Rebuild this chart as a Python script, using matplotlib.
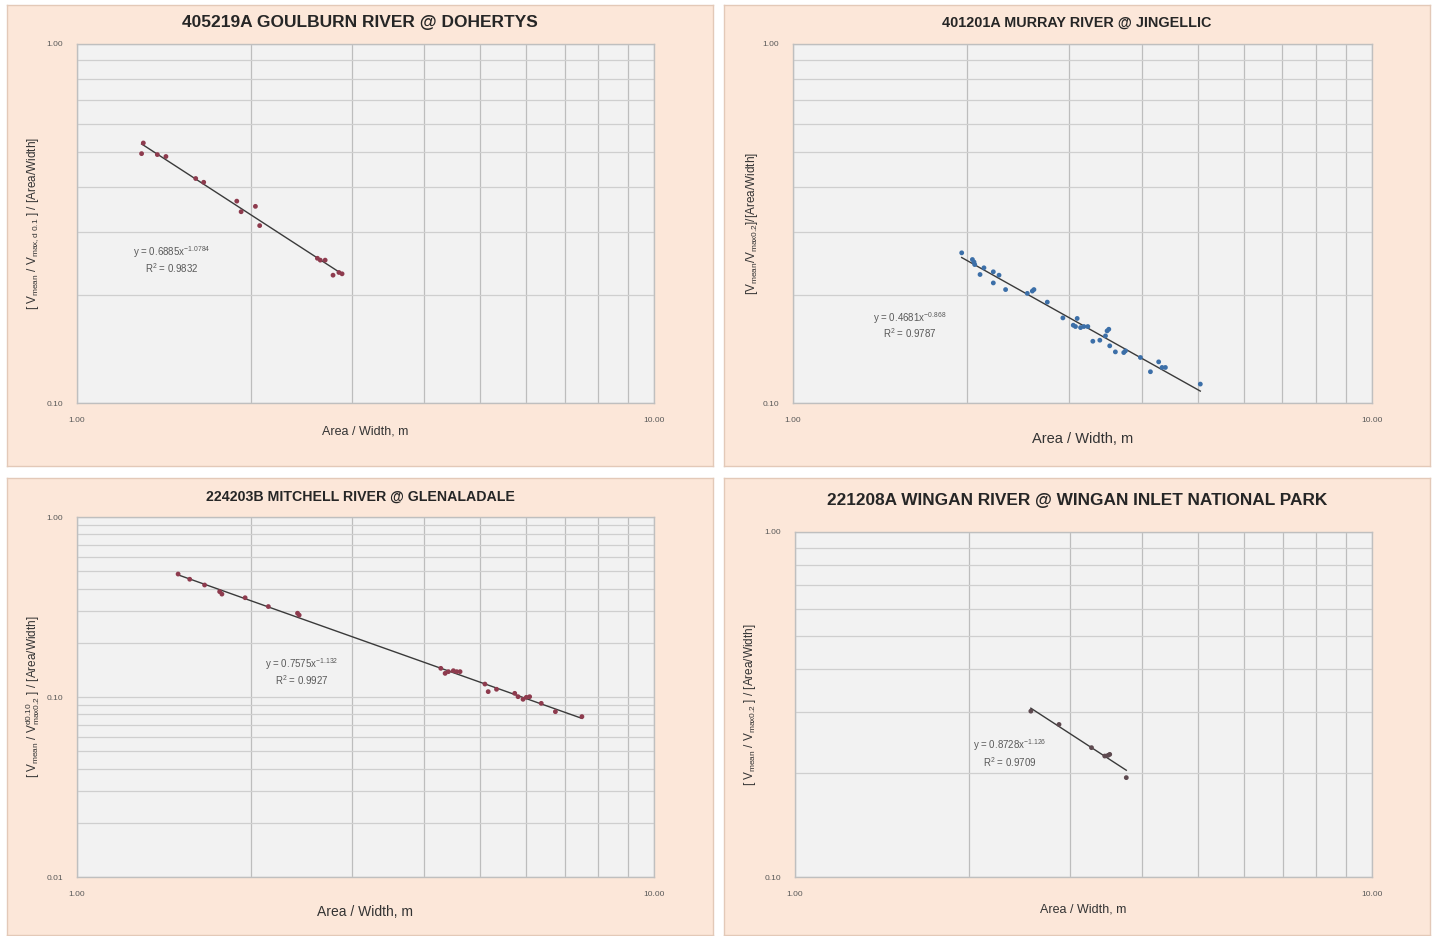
import numpy as np
import matplotlib
matplotlib.use("Agg")
import matplotlib.pyplot as plt
from matplotlib.ticker import FixedLocator, NullFormatter, FixedFormatter

plt.rcParams['font.family'] = ['Liberation Sans', 'DejaVu Sans']
plt.rcParams['mathtext.fontset'] = 'custom'
plt.rcParams['mathtext.rm'] = 'Liberation Sans'
plt.rcParams['mathtext.it'] = 'Liberation Sans'

# ---------------- data ----------------
titles = ["405219A GOULBURN RIVER @ DOHERTYS",
          "401201A MURRAY RIVER @ JINGELLIC",
          "224203B MITCHELL RIVER @ GLENALADALE",
          "221208A WINGAN RIVER @ WINGAN INLET NATIONAL PARK"]

x_label = "Area / Width, m"
y_labels = [r"[ V$_{mean}$ / V$_{max,d\ 0.1}$ ] / [Area/Width]",
            r"[V$_{mean}$/V$_{max0.2}$]/[Area/Width]",
            r"[ V$_{mean}$ / V$_{max0.2}^{d0.10}$ ] / [Area/Width]",
            r"[ V$_{mean}$ / V$_{max0.2}$ ] / [Area/Width]"]

eq_texts = [("y = 0.6885x$^{-1.0784}$", "R$^2$ = 0.9832"),
            ("y = 0.4681x$^{-0.868}$", "R$^2$ = 0.9787"),
            ("y = 0.7575x$^{-1.132}$", "R$^2$ = 0.9927"),
            ("y = 0.8728x$^{-1.126}$", "R$^2$ = 0.9709")]

# Goulburn River @ Dohertys
x1 = [1.303, 1.294, 1.378, 1.426, 1.606, 1.658, 1.892, 1.925, 2.038, 2.073,
      2.610, 2.640, 2.692, 2.778, 2.844, 2.880]
y1 = [0.530, 0.495, 0.492, 0.486, 0.422, 0.412, 0.365, 0.341, 0.353, 0.312,
      0.253, 0.250, 0.250, 0.227, 0.231, 0.229]

# Murray River @ Jingellic
x2 = [1.956, 2.041, 2.054, 2.060, 2.104, 2.137, 2.218, 2.218, 2.269, 2.329,
      2.539, 2.590, 2.607, 2.749, 2.925, 3.048, 3.096, 3.075, 3.138, 3.180,
      3.230, 3.295, 3.388, 3.465, 3.487, 3.511, 3.524, 3.604, 3.726, 3.751,
      3.981, 4.143, 4.281, 4.339, 4.397, 5.052]
y2 = [0.262, 0.251, 0.247, 0.243, 0.228, 0.238, 0.232, 0.216, 0.227, 0.207,
      0.202, 0.205, 0.207, 0.191, 0.1726, 0.1647, 0.172, 0.1633, 0.1622, 0.1633,
      0.1633, 0.1486, 0.1496, 0.1538, 0.1588, 0.1605, 0.1443, 0.1388, 0.1382, 0.1397,
      0.1339, 0.1222, 0.1302, 0.1256, 0.1256, 0.1129]

# Mitchell River @ Glenaladale
x3 = [1.497, 1.568, 1.664, 1.767, 1.783, 1.956, 2.146, 2.411, 2.427, 4.271,
      4.345, 4.402, 4.490, 4.550, 4.612, 5.093, 5.160, 5.334, 5.736, 5.813,
      5.929, 6.008, 6.088, 6.377, 6.747, 7.500]
y3 = [0.482, 0.451, 0.419, 0.385, 0.373, 0.356, 0.318, 0.292, 0.285, 0.1443,
      0.1353, 0.1383, 0.1400, 0.1383, 0.1383, 0.1180, 0.1071, 0.1104, 0.1048, 0.1004,
      0.0971, 0.0996, 0.1004, 0.0922, 0.0829, 0.0778]

# Wingan River @ Wingan Inlet National Park
x4 = [2.563, 2.868, 3.265, 3.442, 3.487, 3.511, 3.751]
y4 = [0.3025, 0.2768, 0.2371, 0.2242, 0.2252, 0.2267, 0.1941]

xs = [x1, x2, x3, x4]
ys = [y1, y2, y3, y4]
marker_colors = ["#8E3B4E", "#3C6FA8", "#8E3B4E", "#5E4A50"]
y_ranges = [(0.1, 1.0), (0.1, 1.0), (0.01, 1.0), (0.1, 1.0)]
y_tick_vals = [[0.1, 1.0], [0.1, 1.0], [0.01, 0.1, 1.0], [0.1, 1.0]]
y_tick_txt = [["0.10", "1.00"], ["0.10", "1.00"], ["0.01", "0.10", "1.00"], ["0.10", "1.00"]]

# ---------------- layout ----------------
W, H = 1435, 936
fig = plt.figure(figsize=(W / 100, H / 100), dpi=100)
fig.patch.set_facecolor("white")


def frac(x0, y0, x1, y1):
    return [x0 / W, 1 - y1 / H, (x1 - x0) / W, (y1 - y0) / H]


panels = [
    dict(bg=(7, 5, 713, 466), ax=(77, 44, 654, 403), title_y=23, tsize=12.5,
         xl_y=432, xl_size=9, yl_x=33, eq=(172, 252, 268)),
    dict(bg=(724, 5, 1430, 466), ax=(793, 44, 1372, 403), title_y=23, tsize=10.4,
         xl_y=439, xl_size=10.5, yl_x=752, eq=(910, 318, 333)),
    dict(bg=(7, 478, 713, 935), ax=(77, 517, 654, 877), title_y=497, tsize=10.2,
         xl_y=912, xl_size=10, yl_x=33, eq=(302, 664, 680)),
    dict(bg=(724, 478, 1430, 935), ax=(795, 532, 1372, 877), title_y=501, tsize=12.4,
         xl_y=909, xl_size=9, yl_x=750, eq=(1010, 745, 762)),
]

for i, p in enumerate(panels):
    bx0, by0, bx1, by1 = p["bg"]
    bg = fig.add_axes(frac(bx0, by0, bx1, by1), zorder=-5)
    bg.set_facecolor("#FCE7D9")
    bg.set_xticks([])
    bg.set_yticks([])
    for s in bg.spines.values():
        s.set_color("#E3C9B8")
        s.set_linewidth(1.0)

    ax = fig.add_axes(frac(*p["ax"]), zorder=1)
    ax.set_facecolor("#F2F2F2")
    ax.set_xscale("log")
    ax.set_yscale("log")
    ax.set_xlim(1, 10)
    ax.set_ylim(*y_ranges[i])

    ax.xaxis.set_major_locator(FixedLocator([1, 10]))
    ax.xaxis.set_major_formatter(FixedFormatter(["1.00", "10.00"]))
    ax.xaxis.set_minor_locator(FixedLocator(list(range(2, 10))))
    ax.xaxis.set_minor_formatter(NullFormatter())
    ax.yaxis.set_major_locator(FixedLocator(y_tick_vals[i]))
    ax.yaxis.set_major_formatter(FixedFormatter(y_tick_txt[i]))
    lo, hi = y_ranges[i]
    minors = []
    d = lo
    while d < hi - 1e-12:
        minors += [d * k for k in range(2, 10)]
        d *= 10
    ax.yaxis.set_minor_locator(FixedLocator(minors))
    ax.yaxis.set_minor_formatter(NullFormatter())

    ax.tick_params(which="both", length=0)
    ax.tick_params(axis="x", labelsize=6, colors="#595959", pad=10)
    ax.tick_params(axis="y", labelsize=6, colors="#595959", pad=10)

    ax.grid(True, which="both", axis="x", color="#BDBDBD", linewidth=0.9)
    ax.grid(True, which="both", axis="y", color="#CFCFCF", linewidth=0.9)
    ax.set_axisbelow(True)
    for s in ax.spines.values():
        s.set_color("#BFBFBF")
        s.set_linewidth(1.0)

    xv = np.array(xs[i])
    yv = np.array(ys[i])
    # power trendline fitted to the points (as Excel does)
    b, a = np.polyfit(np.log(xv), np.log(yv), 1)
    xt = np.array([xv.min(), xv.max()])
    ax.plot(xt, np.exp(a) * xt ** b, color="#3A3A3A", linewidth=1.0, zorder=2)
    ax.scatter(xv, yv, s=12, color=marker_colors[i], edgecolors="none", zorder=3)

    # texts
    cx = (bx0 + bx1) / 2
    fig.text(cx / W, 1 - p["title_y"] / H, titles[i], ha="center", va="center",
             fontsize=p["tsize"], fontweight="bold", color="#262626", zorder=3)
    ax_cx = (p["ax"][0] + p["ax"][2]) / 2
    fig.text(ax_cx / W, 1 - p["xl_y"] / H, x_label, ha="center", va="center",
             fontsize=p["xl_size"], color="#333333", zorder=3)
    ay_c = (p["ax"][1] + p["ax"][3]) / 2
    fig.text(p["yl_x"] / W, 1 - ay_c / H, y_labels[i], ha="center", va="center",
             rotation=90, fontsize=8.5, color="#333333", zorder=3)
    ex, ey1, ey2 = p["eq"]
    fig.text(ex / W, 1 - ey1 / H, eq_texts[i][0], ha="center", va="center",
             fontsize=7, color="#595959", zorder=3)
    fig.text(ex / W, 1 - ey2 / H, eq_texts[i][1], ha="center", va="center",
             fontsize=7, color="#595959", zorder=3)

fig.savefig("out.png", dpi=100, facecolor="white")
